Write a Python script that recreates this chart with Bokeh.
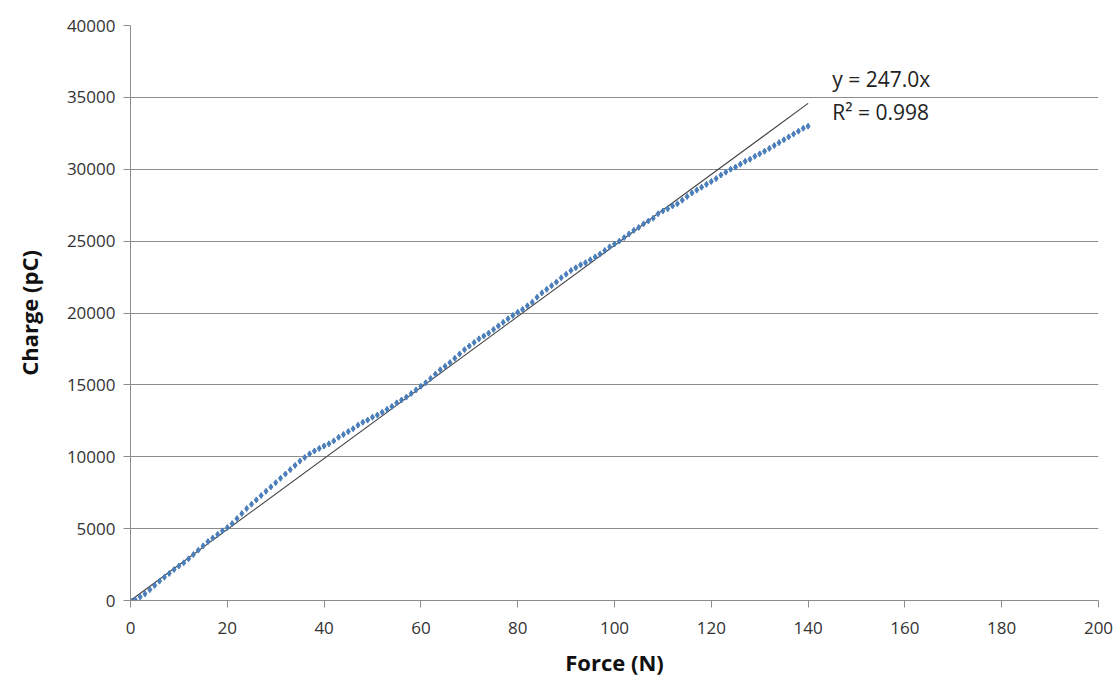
from bokeh.plotting import figure
from bokeh.models import Range1d, FixedTicker, ColumnDataSource, Label
from bokeh.embed import file_html
from bokeh.resources import INLINE

# ---- data ----
force_n = list(range(0, 141))
charge_pc = [
    0, 40, 250, 460, 750, 1050, 1350, 1620, 1880, 2150,
    2400, 2620, 2900, 3200, 3500, 3800, 4100, 4350, 4600, 4850,
    5080, 5350, 5700, 6050, 6400, 6700, 7000, 7300, 7600, 7900,
    8200, 8500, 8800, 9100, 9400, 9700, 9950, 10200, 10400, 10580,
    10750, 10900, 11100, 11350, 11550, 11750, 11950, 12200, 12400, 12550,
    12750, 12900, 13100, 13300, 13500, 13750, 13950, 14150, 14400, 14650,
    14900, 15150, 15450, 15750, 16050, 16300, 16550, 16850, 17150, 17450,
    17700, 17950, 18200, 18400, 18600, 18850, 19100, 19350, 19600, 19830,
    20050, 20250, 20500, 20750, 21100, 21400, 21650, 21900, 22150, 22450,
    22700, 22950, 23150, 23350, 23500, 23700, 23900, 24100, 24350, 24600,
    24800, 25000, 25250, 25500, 25750, 25950, 26200, 26400, 26600, 26900,
    27100, 27250, 27450, 27600, 27850, 28100, 28350, 28550, 28750, 28950,
    29150, 29350, 29600, 29800, 30000, 30150, 30350, 30550, 30700, 30900,
    31070, 31250, 31450, 31650, 31850, 32050, 32250, 32450, 32650, 32850,
    33000,
]
trend_slope = 247.0
trend_r2 = 0.998
trend_x = [0, 140]
trend_y = [trend_slope * x for x in trend_x]

x_ticks = [0, 20, 40, 60, 80, 100, 120, 140, 160, 180, 200]
y_ticks = [0, 5000, 10000, 15000, 20000, 25000, 30000, 35000, 40000]

FONT = "Open Sans"
GRID = "#8c8c8c"
TXT = "#333333"

p = figure(width=1119, height=679, output_backend="svg", toolbar_location=None,
           x_range=Range1d(0, 200), y_range=Range1d(0, 40000),
           min_border_left=130, min_border_right=21, min_border_top=25,
           min_border_bottom=79)
p.outline_line_color = None
p.background_fill_color = "white"
p.border_fill_color = "white"

# grid
p.xgrid.grid_line_color = None
p.ygrid.grid_line_color = GRID
p.ygrid.grid_line_width = 1

for ax, ticks in ((p.xaxis, x_ticks), (p.yaxis, y_ticks)):
    ax.ticker = FixedTicker(ticks=ticks)
    ax.axis_line_color = GRID
    ax.axis_line_width = 1
    ax.major_tick_line_color = GRID
    ax.major_tick_in = 0
    ax.major_tick_out = 7
    ax.minor_tick_line_color = None
    ax.major_label_text_font = FONT
    ax.major_label_text_font_size = "17px"
    ax.major_label_text_color = TXT
    ax.axis_label_text_font = FONT
    ax.axis_label_text_font_style = "bold"
    ax.axis_label_text_font_size = "22px"
    ax.axis_label_text_color = "#111111"

p.xaxis.axis_label = "Force (N)"
p.yaxis.axis_label = "Charge (pC)"
p.xaxis.major_label_standoff = 14
p.yaxis.major_label_standoff = 8
p.xaxis.axis_label_standoff = 10
p.yaxis.axis_label_standoff = 20

src = ColumnDataSource(dict(x=force_n, y=charge_pc))
p.line(trend_x, trend_y, line_color="#404040", line_width=1.1)
p.scatter("x", "y", source=src, marker="diamond", size=6,
          fill_color="#4A7EBB", line_color="#4A7EBB")

p.add_layout(Label(x=145, y=36300, text="y = %.1fx" % trend_slope,
                   text_font=FONT, text_font_size="21px", text_color="#222222",
                   text_baseline="middle"))
p.add_layout(Label(x=145, y=34000, text="R² = %.3f" % trend_r2,
                   text_font=FONT, text_font_size="21px", text_color="#222222",
                   text_baseline="middle"))

open("out.html", "w").write(file_html(p, INLINE))
